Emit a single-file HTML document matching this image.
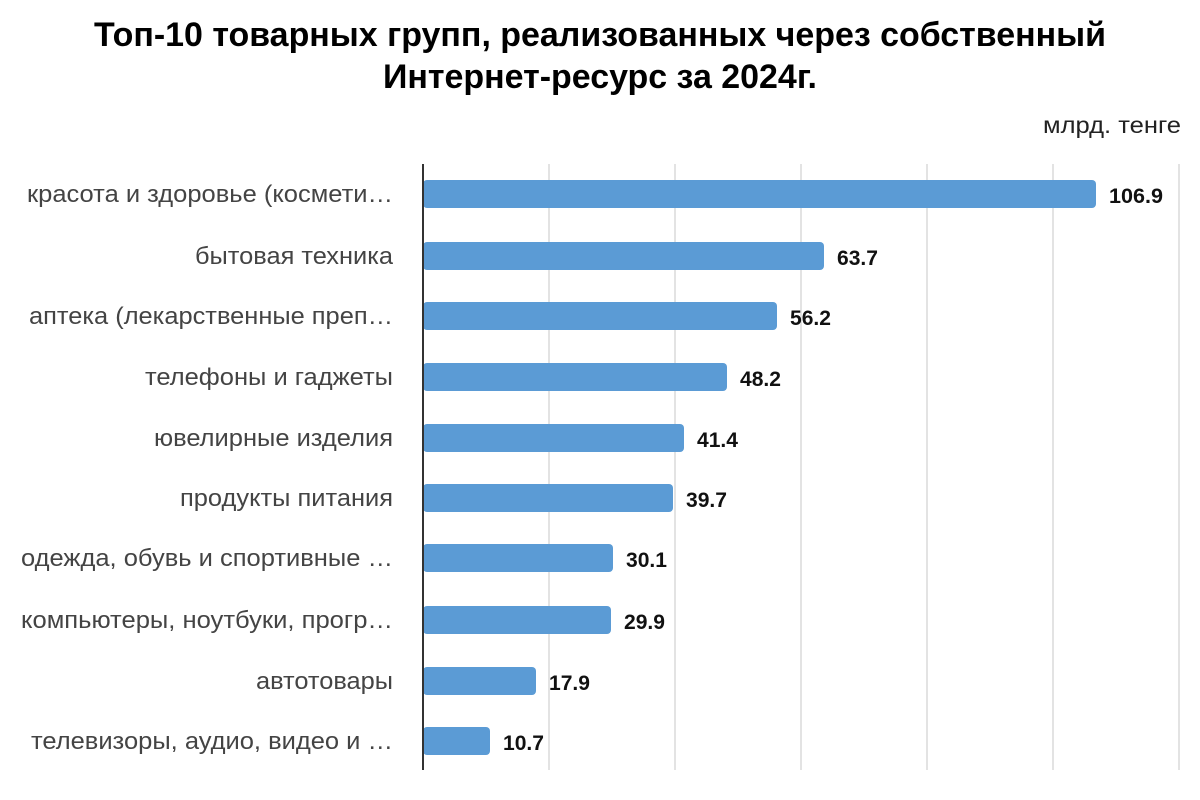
<!DOCTYPE html>
<html><head><meta charset="utf-8"><style>
html,body{margin:0;padding:0;background:#fff;}
svg{display:block;font-family:"Liberation Sans",Arial,sans-serif;}
</style></head><body>
<svg width="1200" height="800" viewBox="0 0 1200 800" xmlns="http://www.w3.org/2000/svg">
<text x="600" y="46" text-anchor="middle" font-size="34" font-weight="bold" fill="#000" textLength="1012" lengthAdjust="spacingAndGlyphs">Топ-10 товарных групп, реализованных через собственный</text>
<text x="600" y="88" text-anchor="middle" font-size="34" font-weight="bold" fill="#000" textLength="434" lengthAdjust="spacingAndGlyphs">Интернет-ресурс за 2024г.</text>
<text x="1181" y="133" text-anchor="end" font-size="23" fill="#222" textLength="138" lengthAdjust="spacingAndGlyphs">млрд. тенге</text>
<g stroke="#e3e3e3" stroke-width="2">
<line x1="549" y1="164" x2="549" y2="770"/>
<line x1="675" y1="164" x2="675" y2="770"/>
<line x1="801" y1="164" x2="801" y2="770"/>
<line x1="927" y1="164" x2="927" y2="770"/>
<line x1="1053" y1="164" x2="1053" y2="770"/>
<line x1="1179" y1="164" x2="1179" y2="770"/>
</g>
<g fill="#5b9bd5">
<rect x="423" y="180" width="673" height="28" rx="4"/>
<rect x="423" y="242" width="401" height="28" rx="4"/>
<rect x="423" y="302" width="354" height="28" rx="4"/>
<rect x="423" y="363" width="304" height="28" rx="4"/>
<rect x="423" y="424" width="261" height="28" rx="4"/>
<rect x="423" y="484" width="250" height="28" rx="4"/>
<rect x="423" y="544" width="190" height="28" rx="4"/>
<rect x="423" y="606" width="188" height="28" rx="4"/>
<rect x="423" y="667" width="113" height="28" rx="4"/>
<rect x="423" y="727" width="67" height="28" rx="4"/>
</g>
<line x1="423" y1="164" x2="423" y2="770" stroke="#333" stroke-width="2"/>
<g font-size="24" fill="#444" text-anchor="end">
<text x="393" y="202" textLength="366" lengthAdjust="spacingAndGlyphs">красота и здоровье (космети…</text>
<text x="393" y="264" textLength="198" lengthAdjust="spacingAndGlyphs">бытовая техника</text>
<text x="393" y="324" textLength="364" lengthAdjust="spacingAndGlyphs">аптека (лекарственные преп…</text>
<text x="393" y="385" textLength="248" lengthAdjust="spacingAndGlyphs">телефоны и гаджеты</text>
<text x="393" y="446" textLength="239" lengthAdjust="spacingAndGlyphs">ювелирные изделия</text>
<text x="393" y="506" textLength="213" lengthAdjust="spacingAndGlyphs">продукты питания</text>
<text x="393" y="566" textLength="372" lengthAdjust="spacingAndGlyphs">одежда, обувь и спортивные …</text>
<text x="393" y="628" textLength="372" lengthAdjust="spacingAndGlyphs">компьютеры, ноутбуки, прогр…</text>
<text x="393" y="689" textLength="137" lengthAdjust="spacingAndGlyphs">автотовары</text>
<text x="393" y="749" textLength="362" lengthAdjust="spacingAndGlyphs">телевизоры, аудио, видео и …</text>
</g>
<g font-size="21" font-weight="bold" fill="#111">
<text x="1109" y="203" textLength="54" lengthAdjust="spacingAndGlyphs">106.9</text>
<text x="837" y="265" textLength="41" lengthAdjust="spacingAndGlyphs">63.7</text>
<text x="790" y="325" textLength="41" lengthAdjust="spacingAndGlyphs">56.2</text>
<text x="740" y="386" textLength="41" lengthAdjust="spacingAndGlyphs">48.2</text>
<text x="697" y="447" textLength="41" lengthAdjust="spacingAndGlyphs">41.4</text>
<text x="686" y="507" textLength="41" lengthAdjust="spacingAndGlyphs">39.7</text>
<text x="626" y="567" textLength="41" lengthAdjust="spacingAndGlyphs">30.1</text>
<text x="624" y="629" textLength="41" lengthAdjust="spacingAndGlyphs">29.9</text>
<text x="549" y="690" textLength="41" lengthAdjust="spacingAndGlyphs">17.9</text>
<text x="503" y="750" textLength="41" lengthAdjust="spacingAndGlyphs">10.7</text>
</g>
</svg>
</body></html>
